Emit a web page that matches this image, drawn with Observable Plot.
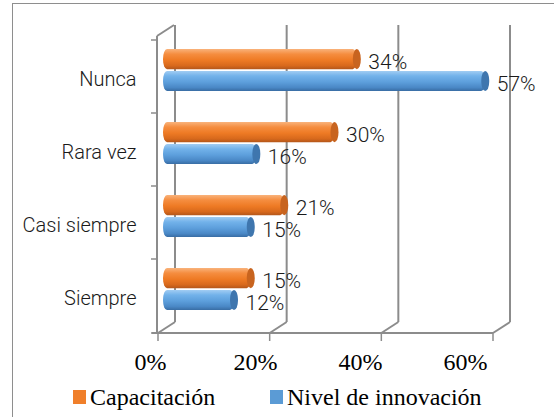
<!DOCTYPE html>
<html><head><meta charset="utf-8">
<script src="https://cdn.jsdelivr.net/npm/d3@7"></script>
<script src="https://cdn.jsdelivr.net/npm/@observablehq/plot@0.6"></script>
<style>
body{margin:0;background:#fff;}
#wrap{position:relative;width:554px;height:417px;overflow:hidden;background:#fff;}
#frame{position:absolute;left:12px;top:3px;width:700px;height:600px;border-left:1px solid #8e8e8e;border-top:1px solid #8e8e8e;}
#chart,#axis{position:absolute;left:0;top:0;}
#legend{position:absolute;left:0;top:382px;width:554px;height:35px;font-family:"Liberation Serif",serif;font-size:24px;color:#000;}
#legend .item{position:absolute;top:0;display:flex;align-items:center;height:30px;white-space:nowrap;}
#legend .sw{display:inline-block;width:13px;height:14px;margin-right:4px;}
</style></head><body>
<div id="wrap"><div id="frame"></div><div id="chart"></div><div id="axis"></div><div id="legend"></div></div>
<script>
const categories = ["Nunca", "Rara vez", "Casi siempre", "Siempre"];
const series = ["Capacitación", "Nivel de innovación"];
const capacitacion = [0.34, 0.30, 0.21, 0.15];
const innovacion = [0.57, 0.16, 0.15, 0.12];
const xTicks = [0, 0.2, 0.4, 0.6];
const colors = ["#f07f2a", "#5b9bd5"];

const table = categories.map((c, i) => ({category: c, cap: capacitacion[i], inn: innovacion[i]}));
const pct = d3.format(".0%");
const W = 554, H = 382;
const DX = 17, DY = -11; // depth offset of the back wall

// gradients
const defsMark = () => {
  const g = d3.create("svg:g");
  const defs = g.append("defs");
  const grads = [
    ["gOr", ["#f9b27a", "#f58d3f", "#ee7a24", "#d8691c", "#b3561a"]],
    ["gBl", ["#a2cdf3", "#72b2ea", "#5d9fdc", "#4a88c6", "#386ca3"]]
  ];
  for (const [id, stops] of grads) {
    const lg = defs.append("linearGradient").attr("id", id).attr("x1", 0).attr("x2", 0).attr("y1", 0).attr("y2", 1);
    const offs = [0, 0.25, 0.55, 0.82, 1];
    stops.forEach((c, k) => lg.append("stop").attr("offset", offs[k]).attr("stop-color", c));
  }
  return g.node();
};

// 3D walls built from the plot's own scales
const wallsMark = (index, {x, y}, values, dim) => {
  const g = d3.create("svg:g").attr("fill", "none").attr("stroke", "#8c8c8c").attr("stroke-width", 2);
  const yTop = dim.marginTop, yBot = dim.height - dim.marginBottom;
  const x0 = x(xTicks[0]);
  for (const t of xTicks) {
    const xt = x(t);
    g.append("line").attr("x1", xt + DX).attr("x2", xt + DX).attr("y1", yTop + DY - 2).attr("y2", yBot + DY);
    g.append("line").attr("x1", xt).attr("x2", xt + DX).attr("y1", yBot).attr("y2", yBot + DY);
    g.append("line").attr("x1", xt).attr("x2", xt).attr("y1", yBot).attr("y2", yBot + 8).attr("stroke-width", 1.5);
  }
  // left wall front edge and top diagonal
  g.append("line").attr("x1", x0 - 1).attr("x2", x0 - 1).attr("y1", yTop - 2).attr("y2", yBot);
  g.append("line").attr("x1", x0 - 1).attr("x2", x0 + DX - 1).attr("y1", yTop - 2).attr("y2", yTop + DY - 2);
  // floor front edge
  g.append("line").attr("x1", x0 - 6).attr("x2", x(xTicks[xTicks.length - 1])).attr("y1", yBot).attr("y2", yBot);
  // category tick marks
  const bounds = categories.map(c => y(c)).concat([yBot]);
  for (const b of bounds) g.append("line").attr("x1", x0 - 7).attr("x2", x0 - 1).attr("y1", b).attr("y2", b).attr("stroke-width", 1.5);
  return g.node();
};

const BAR = {dx: 9, insetTop: 26.4, insetBottom: 26.4};
const dyOr = -17.3, dyBl = 4.5;
const fontSans = "Roboto";

const chart = Plot.plot({
  width: W, height: H,
  marginLeft: 158, marginRight: 61, marginTop: 38, marginBottom: 49,
  style: {background: "transparent", fontFamily: fontSans, overflow: "visible"},
  x: {domain: [0, 0.6], axis: null},
  y: {domain: categories, padding: 0, axis: null},
  marks: [
    defsMark,
    wallsMark,
    // Capacitación
    Plot.barX(table, {x1: 0, x2: "cap", y: "category", fill: "url(#gOr)", rx: 4, ry: 10, insetLeft: -4, ...BAR, dy: dyOr}),
    Plot.barX(table, {x1: "cap", x2: "cap", y: "category", fill: "#c8641f", rx: 4, ry: 10, insetLeft: -4, insetRight: -4, ...BAR, dy: dyOr}),
    // Nivel de innovación
    Plot.barX(table, {x1: 0, x2: "inn", y: "category", fill: "url(#gBl)", rx: 4, ry: 10, insetLeft: -4, ...BAR, dy: dyBl}),
    Plot.barX(table, {x1: "inn", x2: "inn", y: "category", fill: "#3f76ae", rx: 4, ry: 10, insetLeft: -4, insetRight: -4, ...BAR, dy: dyBl}),
    // value labels
    Plot.text(table, {x: "cap", y: "category", text: d => pct(d.cap), dx: 20, dy: dyOr + 3, textAnchor: "start", fontSize: 21, fontWeight: 300, fill: "#1a1a1a"}),
    Plot.text(table, {x: "inn", y: "category", text: d => pct(d.inn), dx: 20, dy: dyBl + 3, textAnchor: "start", fontSize: 21, fontWeight: 300, fill: "#1a1a1a"}),
    // category labels
    Plot.text(categories, {y: d => d, frameAnchor: "left", dx: -22, dy: 2.5, textAnchor: "end", fontSize: 20, fontWeight: 300, fill: "#1a1a1a"})
  ]
});
document.getElementById("chart").appendChild(chart);

// x-axis labels (Excel places them on a slightly compressed front plane)
const axis = Plot.plot({
  width: W, height: H,
  marginLeft: 150, marginRight: 89, marginTop: 0, marginBottom: 13,
  style: {background: "transparent", fontFamily: "Liberation Serif", overflow: "visible"},
  x: {domain: [0, 0.6], axis: null},
  marks: [
    Plot.text(xTicks, {x: d => d, text: d => pct(d), frameAnchor: "bottom", lineAnchor: "bottom", fontSize: 24, fill: "#000"})
  ]
});
document.getElementById("axis").appendChild(axis);

// legend
const legend = document.getElementById("legend");
const legendX = [73, 270];
series.forEach((s, i) => {
  const it = document.createElement("div");
  it.className = "item";
  it.style.left = legendX[i] + "px";
  it.innerHTML = `<span class="sw" style="background:${colors[i]}"></span><span>${s}</span>`;
  legend.appendChild(it);
});
</script>
</body></html>
